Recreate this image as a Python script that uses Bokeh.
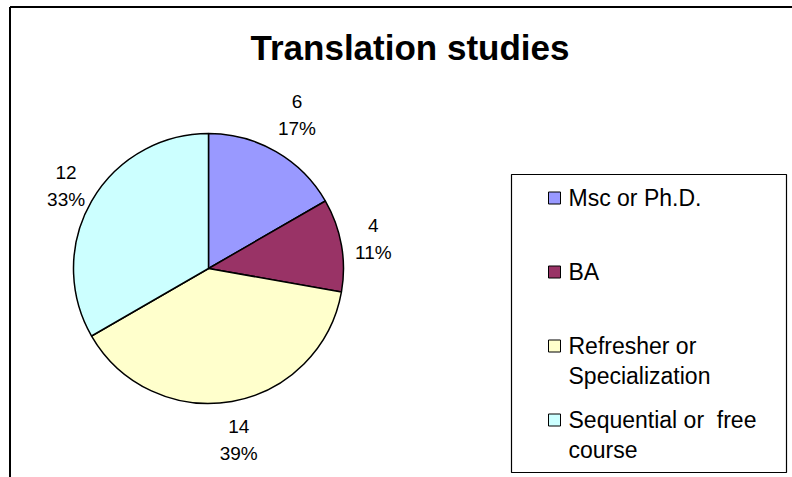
import math
from bokeh.plotting import figure
from bokeh.models import Range1d, ColumnDataSource
from bokeh.core.properties import value
from bokeh.embed import file_html
from bokeh.resources import INLINE

# ---- data ----
title = "Translation studies"
categories = ["Msc or Ph.D.", "BA", "Refresher or Specialization", "Sequential or  free course"]
legend_lines = [["Msc or Ph.D."], ["BA"], ["Refresher or", "Specialization"], ["Sequential or\u00a0 free", "course"]]
values = [6, 4, 14, 12]
colors = ["#9999FF", "#993366", "#FFFFCC", "#CCFFFF"]

# ---- layout ----
W, H = 792, 477
FONT = "Liberation Sans"


def px(x):
    return x


def py(y):
    return H - y


p = figure(width=W, height=H, x_range=Range1d(0, W), y_range=Range1d(0, H),
           output_backend="svg", toolbar_location=None, min_border=0,
           x_axis_location=None, y_axis_location=None,
           background_fill_color="white", border_fill_color="white")
p.grid.visible = False
p.outline_line_color = None

# chart frame (left and top edges visible)
p.segment(x0=[px(9.5), px(9.5)], y0=[0, py(6.5)], x1=[px(9.5), W], y1=[py(6.5), py(6.5)],
          line_color="black", line_width=2)

# title
p.text(x=[px(409.5)], y=[py(47)], text=[title], text_align="center", text_baseline="middle",
       text_font=value(FONT), text_font_size=value("35px"), text_font_style="bold", text_color="black")

# pie
cx, cy, r = px(208), py(268), 135
total = sum(values)
starts, ends, mids = [], [], []
cum = 0.0
for v in values:
    a0 = cum * 360.0 / total
    a1 = (cum + v) * 360.0 / total
    starts.append(math.radians(90 - a0))
    ends.append(math.radians(90 - a1))
    mids.append(math.radians((a0 + a1) / 2))
    cum += v

src = ColumnDataSource(dict(start=starts, end=ends, color=colors))
p.wedge(x=cx, y=cy, radius=r, start_angle="start", end_angle="end", direction="clock",
        fill_color="color", line_color="black", line_width=1.5, source=src)

# data labels (placed outside the slice, along its mid-angle)
lx, ly_top, ly_bot, t_top, t_bot = [], [], [], [], []
for v, th in zip(values, mids):
    s, c = math.sin(th), math.cos(th)
    hw = 19 if s >= 0 else 8
    proj = abs(s) * hw + abs(c) * 27
    d = r + 9 + proj
    x = cx + d * s
    y = cy + d * c
    lx.append(x)
    ly_top.append(y + 13.5)
    ly_bot.append(y - 13.5)
    t_top.append(str(v))
    t_bot.append(f"{round(100 * v / total)}%")

p.text(x=lx + lx, y=ly_top + ly_bot, text=t_top + t_bot, text_align="center", text_baseline="middle",
       text_font=value(FONT), text_font_size=value("19px"), text_color="black")

# legend box
p.quad(left=[px(511)], right=[px(786)], top=[py(174)], bottom=[py(472)],
       fill_color="white", line_color="black", line_width=1.2)

sq_x, sq_y = [], []
tx, ty, tt = [], [], []
for i, lines in enumerate(legend_lines):
    yc = 197.5 + i * 74
    sq_x.append(px(554))
    sq_y.append(py(yc))
    for j, line in enumerate(lines):
        tx.append(px(568))
        ty.append(py(yc + j * 29.5))
        tt.append(line)

p.rect(x=sq_x, y=sq_y, width=12, height=12, fill_color=colors, line_color="black", line_width=1)
p.text(x=tx, y=ty, text=tt, text_align="left", text_baseline="middle",
       text_font=value(FONT), text_font_size=value("23px"), text_color="black")

open("out.html", "w").write(file_html(p, INLINE))
